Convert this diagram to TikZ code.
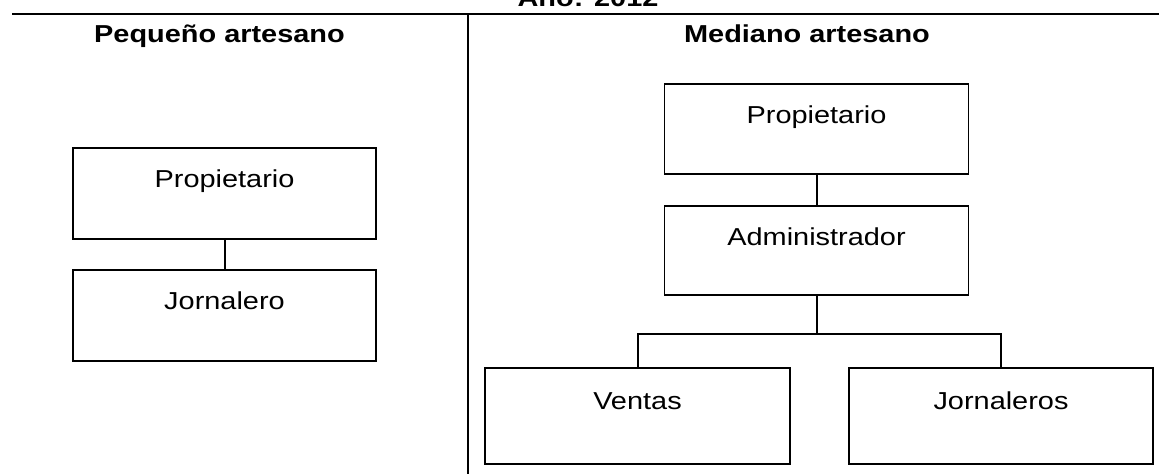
\documentclass[tikz,border=0pt]{standalone}
\usepackage{fontspec}
\setmainfont[FakeStretch=1.18]{Liberation Sans}
\begin{document}
\begin{tikzpicture}[x=1pt,y=-1pt,
  orgbox/.style={draw=black, line width=1.5pt, rectangle, inner sep=0pt,
    minimum width=304pt, text height=39pt, text depth=52pt,
    font=\fontsize{24.5}{28}\selectfont},
  lowbox/.style={orgbox, text height=41pt, text depth=55pt},
  heading/.style={anchor=base, font=\fontsize{24.5}{28}\selectfont\bfseries},
  link/.style={draw=black, line width=2pt},
  rule/.style={draw=black, line width=2pt}]
  \useasboundingbox (0,0) rectangle (1159,474);
  \clip (0,0) rectangle (1159,474);

  % title row and column frame
  \node[heading] (year) at (588,6) {Año: 2012};
  \draw[rule] (12,14) -- (1159,14);
  \draw[rule] (468,14) -- (468,474);

  % column headings
  \node[heading] (hsmall) at (219.5,42) {Pequeño artesano};
  \node[heading] (hmid) at (807,42) {Mediano artesano};

  % small workshop
  \node[orgbox, minimum width=303pt] (lp) at (224.5,193.5) {Propietario};
  \node[orgbox, minimum width=303pt] (lj) at (224.5,315.5) {Jornalero};
  \draw[link] (lp.south) -- (lj.north);

  % medium workshop
  \node[orgbox, text height=39pt, text depth=51pt] (rp) at (816.5,129) {Propietario};
  \node[orgbox, text height=39pt, text depth=50pt] (ra) at (816.5,250.5) {Administrador};
  \node[lowbox, minimum width=305pt] (vt) at (637.5,416) {Ventas};
  \node[lowbox] (jl) at (1001,416) {Jornaleros};
  \draw[link] (rp.south) -- (ra.north);
  \draw[link] (ra.south) -- ++(0,38) coordinate (fork);
  \draw[link] (vt.north) |- (fork) -| (jl.north);
\end{tikzpicture}
\end{document}
